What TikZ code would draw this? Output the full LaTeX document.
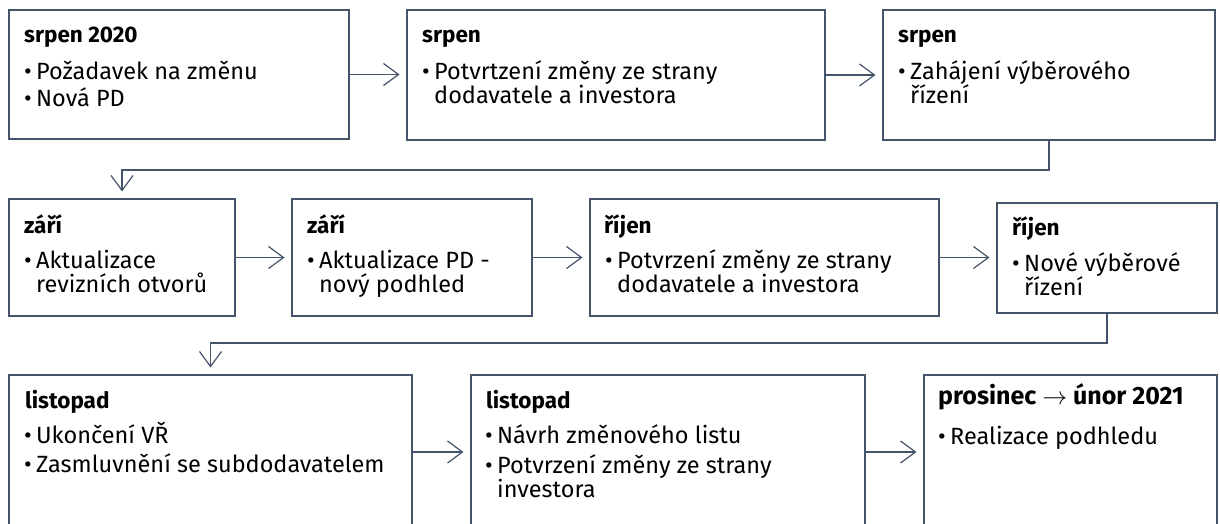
\documentclass[tikz,border=0pt]{standalone}
\usepackage{fontspec}
\setmainfont{Fira Sans}
\usetikzlibrary{arrows.meta}
\definecolor{frame}{HTML}{44546A}
\tikzset{
  stepbox/.style={draw=frame, line width=2.8pt, anchor=north west, inner sep=0pt, outer sep=0pt},
  flow/.style={draw=frame, line width=1.2pt, -{Straight Barb[length=15pt,width=22pt]}, shorten >=7.5pt},
  head/.style={anchor=base west, inner sep=0pt, font=\fontsize{22.5}{26}\selectfont\bfseries},
  item/.style={anchor=base west, inner sep=0pt, font=\fontsize{23.5}{26}\selectfont},
}
% bullet followed by its text; wrapped lines start where the text starts
\newcommand{\bul}{\makebox[11pt][l]{\hspace*{-1pt}\textbullet}}
\begin{document}
\begin{tikzpicture}[x=1pt,y=-1pt]
\useasboundingbox (0,0) rectangle (1220,524);
\clip (0,0) rectangle (1220,524);

% first row
\node[stepbox, minimum width=340, minimum height=129] (b1) at (9,10) {};
\node[stepbox, minimum width=418, minimum height=130] (b2) at (407,10) {};
\node[stepbox, minimum width=332, minimum height=130] (b3) at (883,10) {};

% second row
\node[stepbox, minimum width=226, minimum height=117] (b4) at (9,199) {};
\node[stepbox, minimum width=240, minimum height=117] (b5) at (292,199) {};
\node[stepbox, minimum width=349, minimum height=117] (b6) at (590,199) {};
\node[stepbox, minimum width=220, minimum height=110] (b7) at (997,203) {};

% third row (runs past the lower edge)
\node[stepbox, minimum width=403, minimum height=170] (b8) at (9,375) {};
\node[stepbox, minimum width=394, minimum height=170] (b9) at (471,375) {};
\node[stepbox, minimum width=293, minimum height=170] (b10) at (924,375) {};

% texts, first row
\node[head] (b1h) at ([shift={(15,33)}]b1.north west) {srpen 2020};
\node[item] (b1a) at ([shift={(16,70)}]b1.north west) {\bul Požadavek na změnu};
\node[item] (b1b) at ([shift={(16,97)}]b1.north west) {\bul Nová PD};

\node[head] (b2h) at ([shift={(15,33)}]b2.north west) {srpen};
\node[item] (b2a) at ([shift={(16,70)}]b2.north west) {\bul Potvrtzení změny ze strany};
\node[item] (b2b) at ([shift={(27,94)}]b2.north west) {dodavatele a investora};

\node[head] (b3h) at ([shift={(15,33)}]b3.north west) {srpen};
\node[item] (b3a) at ([shift={(16,70)}]b3.north west) {\bul Zahájení výběrového};
\node[item] (b3b) at ([shift={(27,94)}]b3.north west) {řízení};

% texts, second row
\node[head] (b4h) at ([shift={(15,34)}]b4.north west) {září};
\node[item] (b4a) at ([shift={(16,69)}]b4.north west) {\bul Aktualizace};
\node[item] (b4b) at ([shift={(27,93)}]b4.north west) {revizních otvorů};

\node[head] (b5h) at ([shift={(15,34)}]b5.north west) {září};
\node[item] (b5a) at ([shift={(16,69)}]b5.north west) {\bul Aktualizace PD -};
\node[item] (b5b) at ([shift={(27,93)}]b5.north west) {nový podhled};

\node[head] (b6h) at ([shift={(14,34)}]b6.north west) {říjen};
\node[item] (b6a) at ([shift={(16,69)}]b6.north west) {\bul Potvrzení změny ze strany};
\node[item] (b6b) at ([shift={(27,93)}]b6.north west) {dodavatele a investora};

\node[head] (b7h) at ([shift={(15,32)}]b7.north west) {říjen};
\node[item] (b7a) at ([shift={(16,68)}]b7.north west) {\bul Nové výběrové};
\node[item] (b7b) at ([shift={(27,92)}]b7.north west) {řízení};

% texts, third row
\node[head] (b8h) at ([shift={(16,33)}]b8.north west) {listopad};
\node[item] (b8a) at ([shift={(16,68)}]b8.north west) {\bul Ukončení VŘ};
\node[item] (b8b) at ([shift={(16,97)}]b8.north west) {\bul Zasmluvnění se subdodavatelem};

\node[head] (b9h) at ([shift={(15,33)}]b9.north west) {listopad};
\node[item] (b9a) at ([shift={(15,68)}]b9.north west) {\bul Návrh změnového listu};
\node[item] (b9b) at ([shift={(15,98)}]b9.north west) {\bul Potvrzení změny ze strany};
\node[item] (b9c) at ([shift={(26,122)}]b9.north west) {investora};

\node[head, font=\fontsize{25}{28}\selectfont\bfseries] (b10h) at ([shift={(14,29)}]b10.north west) {prosinec $\rightarrow$ únor 2021};
\node[item] (b10a) at ([shift={(15,69)}]b10.north west) {\bul Realizace podhledu};

% connectors
\draw[flow] (b1.east) -- (b1.east -| b2.west);
\draw[flow] (b2.east) -- (b2.east -| b3.west);
\draw[flow] (b3.south) -- ++(0,30) -| (b4.north);
\draw[flow] (b4.east) -- (b4.east -| b5.west);
\draw[flow] (b5.east) -- (b5.east -| b6.west);
\draw[flow] (b6.east) -- (b6.east -| b7.west);
\draw[flow] (b7.south) -- ++(0,30) -| (b8.north);
\coordinate (r3a) at ([shift={(0,77)}]b8.north east);
\coordinate (r3b) at ([shift={(0,77)}]b9.north east);
\draw[flow] (r3a) -- (r3a -| b9.west);
\draw[flow] (r3b) -- (r3b -| b10.west);
\end{tikzpicture}
\end{document}
